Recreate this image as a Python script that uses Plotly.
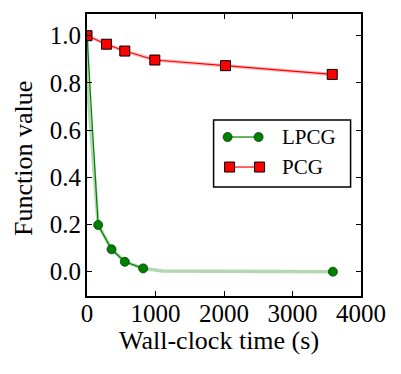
"""Function value vs wall-clock time for LPCG and PCG."""

import plotly.graph_objects as go

# marker samples
pcg_time = [0, 285, 552, 990, 2022, 3580]
pcg_value = [1.0, 0.964, 0.935, 0.897, 0.873, 0.836]

lpcg_time = [0, 163, 358, 552, 820, 3590]
lpcg_value = [1.0, 0.198, 0.095, 0.042, 0.014, 0.0]

# faint full trace of LPCG (estimated)
lpcg_trace_time = [0, 18, 25, 95, 163, 358, 552, 820, 1100, 3590]
lpcg_trace_value = [1.0, 0.85, 0.72, 0.46, 0.198, 0.095, 0.042, 0.014, 0.003, 0.0]

x_ticks = [0, 1000, 2000, 3000, 4000]
y_ticks = [0.0, 0.2, 0.4, 0.6, 0.8, 1.0]

GREEN = "#008000"
RED = "#ff0000"
FONT = "Liberation Serif"

fig = go.Figure()

fig.add_trace(go.Scatter(
    x=lpcg_trace_time, y=lpcg_trace_value, mode="lines",
    line=dict(color=GREEN, width=3.5), opacity=0.3, showlegend=False, hoverinfo="skip",
))
fig.add_trace(go.Scatter(
    x=pcg_time, y=pcg_value, mode="lines",
    line=dict(color=RED, width=3.5), opacity=0.25, showlegend=False, hoverinfo="skip",
))
fig.add_trace(go.Scatter(
    x=lpcg_time[:-1], y=lpcg_value[:-1], mode="lines",
    line=dict(color=GREEN, width=1.2), showlegend=False,
))
fig.add_trace(go.Scatter(
    x=lpcg_time, y=lpcg_value, mode="markers", name="LPCG",
    marker=dict(symbol="circle", size=9, color=GREEN, line=dict(color="#004000", width=0.8)),
    showlegend=False,
))
fig.add_trace(go.Scatter(
    x=pcg_time, y=pcg_value, mode="lines+markers", name="PCG",
    line=dict(color=RED, width=1.2),
    marker=dict(symbol="square", size=10, color=RED, line=dict(color="black", width=1)),
    showlegend=False,
))

axis_common = dict(
    showline=True, linecolor="black", linewidth=2, mirror="ticks",
    ticks="inside", ticklen=5, tickwidth=1.2, tickcolor="black",
    showgrid=False, zeroline=False, automargin=False,
    tickfont=dict(size=25),
)

fig.update_xaxes(
    range=[0, 4000], tickvals=x_ticks, ticktext=[str(t) for t in x_ticks],
    ticklabelstandoff=-6, **axis_common,
)
fig.update_yaxes(
    range=[-0.103, 1.092], tickvals=y_ticks, ticktext=[f"{t:.1f}" for t in y_ticks],
    ticklabelstandoff=-1, **axis_common,
)

# hand-drawn legend in matplotlib style (two markers per entry)
lx, ly = 0.462, 0.624  # legend box top-left in paper coords
box = dict(xref="paper", yref="paper", xsizemode="pixel", ysizemode="pixel",
           xanchor=lx, yanchor=ly)
shapes = [
    dict(type="rect", x0=0, x1=137, y0=0, y1=-67, line=dict(color="black", width=1.5),
         fillcolor="white", layer="above", **box),
    dict(type="line", x0=14, x1=45, y0=-17, y1=-17, line=dict(color=GREEN, width=1.2),
         layer="above", **box),
    dict(type="line", x0=16, x1=46, y0=-47, y1=-47, line=dict(color=RED, width=1.2),
         layer="above", **box),
]
for cx in (14, 45):
    shapes.append(dict(type="circle", x0=cx - 4.5, x1=cx + 4.5, y0=-17 - 4.5, y1=-17 + 4.5,
                       fillcolor=GREEN, line=dict(color="#004000", width=0.8), layer="above", **box))
for cx in (16, 46):
    shapes.append(dict(type="rect", x0=cx - 5, x1=cx + 5, y0=-47 - 5, y1=-47 + 5,
                       fillcolor=RED, line=dict(color="black", width=1), layer="above", **box))

annotations = [
    dict(text="LPCG", xref="paper", yref="paper", x=lx, y=ly, xshift=66, yshift=-17,
         xanchor="left", yanchor="middle", showarrow=False, font=dict(size=21)),
    dict(text="PCG", xref="paper", yref="paper", x=lx, y=ly, xshift=66, yshift=-47,
         xanchor="left", yanchor="middle", showarrow=False, font=dict(size=21)),
    # axis titles placed by hand
    dict(text="Wall-clock time (s)", xref="paper", yref="paper", x=0.5, y=0,
         xshift=-5, yshift=-44, xanchor="center", yanchor="middle", showarrow=False,
         font=dict(size=26)),
    dict(text="Function value", xref="paper", yref="paper", x=0, y=0.5,
         xshift=-64, yshift=-4, xanchor="center", yanchor="middle", textangle=-90,
         showarrow=False, font=dict(size=26)),
]

fig.update_layout(
    width=401, height=374,
    margin=dict(l=87, r=40, t=14, b=78),
    font=dict(family=FONT, color="black"),
    paper_bgcolor="white", plot_bgcolor="white",
    shapes=shapes, annotations=annotations,
)

fig.write_html("out.html", config={"displayModeBar": False},
               post_script="document.body.style.margin='0';")
